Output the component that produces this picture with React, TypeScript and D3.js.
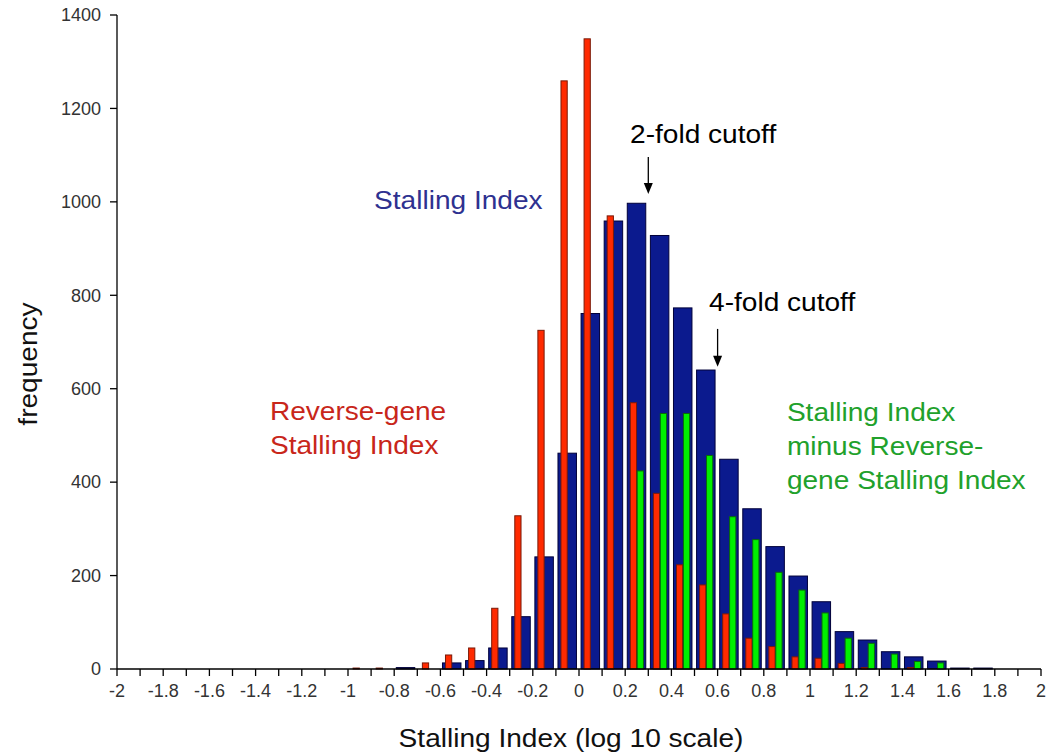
import * as d3 from "d3";

// left edge of each 0.1-wide bin (log10 stalling index)
const binStarts = [
  -1.0, -0.9, -0.8, -0.7, -0.6, -0.5, -0.4, -0.3, -0.2, -0.1,
  0.0, 0.1, 0.2, 0.3, 0.4, 0.5, 0.6, 0.7, 0.8, 0.9,
  1.0, 1.1, 1.2, 1.3, 1.4, 1.5, 1.6, 1.7,
];
const stallingIndex = [
  0, 0, 3, 0, 13, 18, 45, 112, 240, 462,
  761, 959, 997, 928, 773, 640, 449, 343, 262, 199,
  144, 80, 62, 37, 26, 17, 2, 2,
];
const reverseGeneIndex = [
  2, 2, 0, 13, 30, 45, 130, 328, 725, 1259,
  1349, 970, 570, 376, 223, 180, 118, 66, 48, 26,
  23, 12, 3, 0, 3, 0, 0, 0,
];
const differenceIndex = [
  0, 0, 0, 0, 0, 0, 0, 0, 0, 0,
  0, 0, 424, 547, 547, 457, 326, 277, 207, 169,
  120, 66, 55, 32, 16, 13, 0, 0,
];

const yTicks = [0, 200, 400, 600, 800, 1000, 1200, 1400];
const xTickLabels = [
  "-2", "-1.8", "-1.6", "-1.4", "-1.2", "-1", "-0.8", "-0.6", "-0.4", "-0.2",
  "0", "0.2", "0.4", "0.6", "0.8", "1", "1.2", "1.4", "1.6", "1.8", "2",
];

// annotations in data coordinates
const seriesLabels = [
  { lines: ["Stalling Index"], x: -0.887, y: 985, color: "#2e3190" },
  { lines: ["Reverse-gene", "Stalling Index"], x: -1.338, y: 533, color: "#c8261a" },
  { lines: ["Stalling Index", "minus Reverse-", "gene Stalling Index"], x: 0.9, y: 531, color: "#21a12b" },
  { lines: ["2-fold cutoff"], x: 0.221, y: 1126, color: "#000" },
  { lines: ["4-fold cutoff"], x: 0.563, y: 766, color: "#000" },
];
const cutoffArrows = [
  { x: 0.3, from: 1096, to: 1017 },
  { x: 0.6, from: 728, to: 647 },
];

const FONT = "'Liberation Sans', Arial, sans-serif";

export default function App() {
  const width = 1052;
  const height = 753;
  const x = d3.scaleLinear().domain([-2, 2]).range([117, 1041]);
  const y = d3.scaleLinear().domain([0, 1400]).range([669, 15]);
  const binW = x(0.1) - x(0);
  const minorTicks = d3.range(-20, 21).map((i) => i / 10);
  const lineGap = 34;

  const rows = binStarts.map((b, i) => ({
    b,
    blue: stallingIndex[i],
    red: reverseGeneIndex[i],
    green: differenceIndex[i],
  }));

  return (
    <svg
      width={width}
      height={height}
      style={{ position: "absolute", left: 0, top: 0, display: "block", background: "#fff" }}
      fontFamily={FONT}
    >
      {/* Stalling Index (wide, behind) */}
      <g>
        {rows.filter((d) => d.blue > 0).map((d) => (
          <rect
            key={"b" + d.b}
            x={x(d.b) + binW * 0.09}
            y={y(d.blue)}
            width={binW * 0.8}
            height={y(0) - y(d.blue)}
            fill="#0b1a8e"
            stroke="#00003a"
            strokeWidth={1}
          />
        ))}
      </g>

      {/* Reverse-gene stalling index */}
      <g>
        {rows.filter((d) => d.red > 0).map((d) => (
          <rect
            key={"r" + d.b}
            x={x(d.b) + binW * 0.22}
            y={y(d.red)}
            width={binW * 0.27}
            height={y(0) - y(d.red)}
            fill="#ff2a00"
            stroke="#7a1a08"
            strokeWidth={1}
          />
        ))}
      </g>

      {/* difference */}
      <g>
        {rows.filter((d) => d.green > 0).map((d) => (
          <rect
            key={"g" + d.b}
            x={x(d.b) + binW * 0.52}
            y={y(d.green)}
            width={binW * 0.27}
            height={y(0) - y(d.green)}
            fill="#00f000"
            stroke="#0a6a0a"
            strokeWidth={1}
          />
        ))}
      </g>

      {/* y axis */}
      <g>
        <line x1={x(-2)} x2={x(-2)} y1={y(1400)} y2={y(0)} stroke="#000" strokeWidth={1.3} />
        {yTicks.map((t) => (
          <g key={"yt" + t} transform={`translate(${x(-2)},${y(t)})`}>
            <line x1={-7} x2={0} stroke="#000" strokeWidth={1.3} />
            <text x={-16} dy="0.35em" textAnchor="end" fontSize={18} fill="#333">
              {t}
            </text>
          </g>
        ))}
      </g>

      {/* x axis */}
      <g>
        <line x1={x(-2)} x2={x(2)} y1={y(0)} y2={y(0)} stroke="#000" strokeWidth={1.3} />
        {minorTicks.map((t) => (
          <line key={"xt" + t} x1={x(t)} x2={x(t)} y1={y(0)} y2={y(0) + 7} stroke="#000" strokeWidth={1.3} />
        ))}
        {xTickLabels.map((lab) => (
          <text key={"xl" + lab} x={x(+lab)} y={y(0) + 28} textAnchor="middle" fontSize={18} fill="#333">
            {lab}
          </text>
        ))}
      </g>

      {/* axis titles */}
      <text
        transform={`translate(${(x(-2) + x(2)) / 2 - 8},747) scale(1.08,1)`}
        textAnchor="middle"
        fontSize={26}
        fill="#111"
      >
        Stalling Index (log 10 scale)
      </text>
      <text
        transform={`translate(37,${(y(0) + y(1400)) / 2 + 22}) rotate(-90) scale(1.08,1)`}
        textAnchor="middle"
        fontSize={26}
        fill="#111"
      >
        frequency
      </text>

      {/* series labels and cutoffs */}
      {seriesLabels.map((s, i) => (
        <g key={"lab" + i}>
          {s.lines.map((ln, j) => (
            <text
              key={j}
              transform={`translate(${x(s.x)},${y(s.y) + j * lineGap}) scale(1.08,1)`}
              fontSize={26}
              fill={s.color}
            >
              {ln}
            </text>
          ))}
        </g>
      ))}
      {cutoffArrows.map((a, i) => {
        const ax = x(a.x);
        const tip = y(a.to);
        return (
          <g key={"arr" + i}>
            <line x1={ax} x2={ax} y1={y(a.from)} y2={tip - 9} stroke="#000" strokeWidth={1.3} />
            <path d={`M${ax - 4.5},${tip - 11} L${ax + 4.5},${tip - 11} L${ax},${tip} Z`} fill="#000" />
          </g>
        );
      })}
    </svg>
  );
}
